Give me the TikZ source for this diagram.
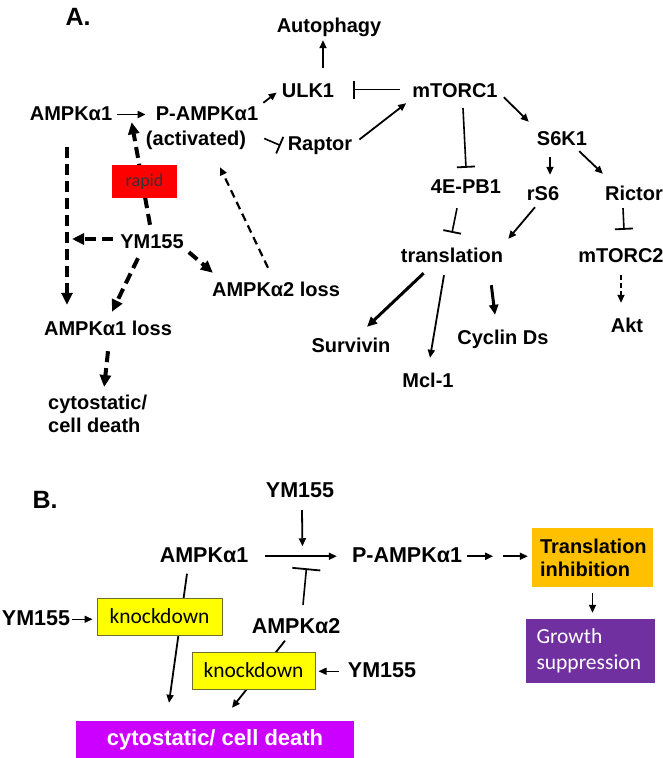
\documentclass[tikz,border=0pt]{standalone}
\usepackage{fontspec}
\setmainfont{Liberation Sans}
\newfontfamily\calibri{Carlito}
\usetikzlibrary{arrows.meta}
\definecolor{RapidRed}{HTML}{FF0000}
\definecolor{KnockYellow}{HTML}{FFFF00}
\definecolor{KnockEdge}{HTML}{6E6E2E}
\definecolor{InhibOrange}{HTML}{FFC000}
\definecolor{GrowPurple}{HTML}{7030A0}
\definecolor{DeathMagenta}{HTML}{CC00FF}

\begin{document}
\begin{tikzpicture}[x=1pt, y=-1pt,
    lbl/.style={font=\fontsize{20}{23}\selectfont\bfseries, text height=15pt, text depth=4pt, inner sep=2pt, anchor=base},
    lblb/.style={font=\fontsize{21.5}{25}\selectfont\bfseries, text height=16pt, text depth=4.5pt, inner sep=2pt, anchor=base},
    panel/.style={font=\fontsize{25}{30}\selectfont\bfseries, anchor=base},
    box/.style={inner sep=0pt, align=center, font=\calibri\fontsize{21.5}{26}\selectfont},
    arrow/.style={-{Triangle[length=8pt,width=7pt]}, line width=1.8pt},
    heavy/.style={-{Triangle[length=10pt,width=9pt]}, line width=3pt},
    dasharrow/.style={-{Triangle[length=12pt,width=11pt]}, line width=4pt, dash pattern=on 11pt off 6pt},
    thindash/.style={arrow, line width=2.2pt, dash pattern=on 8pt off 5pt},
    inhibit/.style={-{Bar[width=18pt,line width=1.8pt]}, line width=1.6pt}
  ]
  \useasboundingbox (0,0) rectangle (663,758);

  % panel A
  \node[panel] (pa) at (78,25) {A.};
  \node[lbl] (auto) at (329,32) {Autophagy};
  \node[lbl] (ulk) at (308,97) {ULK1};
  \node[lbl] (ampka) at (71,120) {AMPKα1};
  \node[lbl] (pampka) at (207,120) {P-AMPKα1};
  \node[lbl] (activ) at (196,145) {(activated)};
  \node[lbl] (raptor) at (320,150) {Raptor};
  \node[lbl] (mtorc) at (455,97) {mTORC1};
  \node[lbl] (s6k) at (562,145) {S6K1};
  \node[lbl] (ebp) at (466,193) {4E-PB1};
  \node[lbl] (rs6) at (543,200) {rS6};
  \node[lbl] (rictor) at (634,200) {Rictor};
  \node[lbl] (trans) at (452,262) {translation};
  \node[lbl] (mtorc2) at (621,262) {mTORC2};
  \node[lbl] (akt) at (627,332) {Akt};
  \node[lbl] (surv) at (351,352) {Survivin};
  \node[lbl] (mcl) at (428,387) {Mcl-1};
  \node[lbl] (cyc) at (503,344) {Cyclin Ds};
  \node[lbl] (ym) at (152,248) {YM155};
  \node[lbl] (loss2) at (276,296) {AMPKα2 loss};
  \node[lbl] (loss1) at (108,335) {AMPKα1 loss};
  \node[font=\fontsize{20}{23}\selectfont\bfseries, inner sep=2pt, align=left, anchor=north west] (cyto) at (46,393) {cytostatic/\\cell death};
  \coordinate (drop) at ([shift={(-4,0)}]ampka.south);

  \draw[arrow] ([shift={(15,-12)}]ulk.north) -- ([shift={(-6,2)}]auto.south);
  \draw[arrow, shorten <=3pt, shorten >=8pt] (ampka.east) -- (pampka.west);
  \draw[arrow] ([shift={(3,0)}]pampka.north east) -- ([shift={(-3,1)}]ulk.west);
  \draw[inhibit] ([shift={(16,-1)}]activ.east) -- ([shift={(-5,1)}]raptor.west);
  \draw[inhibit] ([shift={(-10,-2)}]mtorc.west) -- ([shift={(17,-2)}]ulk.east);
  \draw[arrow] ([shift={(5,-5)}]raptor.east) -- ([shift={(-4,0)}]mtorc.south west);
  \draw[arrow] ([shift={(4,-6)}]mtorc.south east) -- ([shift={(-6,-6)}]s6k.north west);
  \draw[inhibit] ([shift={(8,5)}]mtorc.south) -- ([shift={(0,-8)}]ebp.north);
  \draw[arrow] ([shift={(-12,6)}]s6k.south) -- ([shift={(7,-8)}]rs6.north);
  \draw[arrow] ([shift={(-10,0)}]s6k.south east) -- ([shift={(0,-9)}]rictor.north west);
  \draw[inhibit] ([shift={(-9,9)}]ebp.south) -- ([shift={(0,-12)}]trans.north);
  \draw[arrow] ([shift={(-8,1)}]rs6.south) -- ([shift={(3,-6)}]trans.north east);
  \draw[inhibit] ([shift={(-11,2)}]rictor.south) -- ([shift={(3,-15)}]mtorc2.north);
  \draw[arrow, line width=1.6pt, dash pattern=on 5pt off 3pt] ([shift={(0,7)}]mtorc2.south) -- ([shift={(-6,-12)}]akt.north);
  \draw[heavy] ([shift={(25,5)}]trans.south west) -- ([shift={(16,-8)}]surv.north);
  \draw[arrow] ([shift={(-8,7)}]trans.south) -- ([shift={(2,-12)}]mcl.north);
  \draw[heavy] ([shift={(-14,17)}]trans.south east) -- ([shift={(-8,-12)}]cyc.north);

  \draw[dasharrow] ([shift={(-2,-6)}]ym.north) -- ([shift={(-22,-4)}]pampka.south west);
  \draw[dasharrow] ([shift={(0,21)}]drop) -- ([shift={(0,-13)}]drop |- loss1.north);
  \draw[dasharrow] ([shift={(-5,-3.5)}]ym.west) -- ([shift={(5,-3.5)}]ym.west -| drop);
  \draw[dasharrow] ([shift={(-14,4)}]ym.south) -- ([shift={(4,-6)}]loss1.north);
  \draw[dasharrow] ([shift={(3,-2)}]ym.south east) -- ([shift={(3,-6)}]loss2.north west);
  \draw[thindash] ([shift={(-8,-11)}]loss2.north) -- ([shift={(24,16)}]activ.south);
  \draw[dasharrow] ([shift={(0,10)}]loss1.south) -- ([shift={(6.5,-6)}]cyto.north);
  \node[box, fill=RapidRed, minimum width=65pt, minimum height=33pt, font=\calibri\fontsize{18}{22}\selectfont, text=black!80] (rapid) at (144.5,181.5) {rapid};

  % panel B
  \node[panel] (pb) at (45,508) {B.};
  \node[lblb] (ymb) at (300,497) {YM155};
  \node[lblb] (ampkb) at (204,562) {AMPKα1};
  \node[lblb] (pampkb) at (407,562) {P-AMPKα1};
  \node[lblb] (yml) at (36,625) {YM155};
  \node[lblb] (ampk2) at (296,633) {AMPKα2};
  \node[lblb] (ymr) at (382,677) {YM155};
  \node[box, fill=InhibOrange, text width=105pt, inner xsep=8pt, minimum height=59pt, align=left, font=\fontsize{20}{23}\selectfont\bfseries] (transb) at (592.5,557.5) {Translation\\inhibition};
  \node[box, fill=GrowPurple, text=white, text width=108pt, inner xsep=10.5pt, minimum height=64pt, align=left] (grow) at (590.5,651) {Growth\\suppression};
  \node[box, fill=DeathMagenta, text=white, minimum width=278pt, minimum height=37pt, font=\fontsize{22}{26}\selectfont\bfseries] (cytob) at (215,739.5) {cytostatic/ cell death};
  \coordinate (jb) at ([shift={(52,0)}]ampkb.east);
  \coordinate (gap1) at ([shift={(29,0)}]pampkb.east);
  \coordinate (gap2) at ([shift={(39,0)}]pampkb.east);

  \draw[arrow] ([shift={(15,0)}]ampkb.east) -- ([shift={(-13,0)}]pampkb.west);
  \draw[arrow] ([shift={(2,6.5)}]ymb.south) -- ([shift={(0,-10)}]jb);
  \draw[-{Bar[width=28pt,line width=1.8pt]}, line width=1.6pt] ([shift={(7,-10)}]ampk2.north) -- ([shift={(4,12)}]jb);
  \draw[arrow] ([shift={(3,0)}]pampkb.east) -- (gap1);
  \draw[arrow, shorten >=4pt] (gap2) -- (gap2 -| transb.west);
  \draw[arrow] ([shift={(0,6)}]transb.south) -- ([shift={(0,-6)}]transb.south |- grow.north);
  \draw[arrow] ([shift={(-17,5)}]ampkb.south) -- ([shift={(-46,-18)}]cytob.north);
  \draw[arrow] ([shift={(-11,1)}]ampk2.south) -- ([shift={(17,-13)}]cytob.north);
  \node[box, fill=KnockYellow, draw=KnockEdge, line width=1pt, minimum width=125pt, minimum height=37pt] (kd1) at (159.5,616.5) {knockdown};
  \node[box, fill=KnockYellow, draw=KnockEdge, line width=1pt, minimum width=123pt, minimum height=37pt] (kd2) at (253.5,670.5) {knockdown};
  \draw[arrow, line width=1.5pt, shorten >=4pt] (yml.east) -- (yml.east -| kd1.west);
  \draw[arrow, line width=1.5pt, shorten <=7pt, shorten >=3pt] (ymr.west) -- (ymr.west -| kd2.east);
\end{tikzpicture}
\end{document}
